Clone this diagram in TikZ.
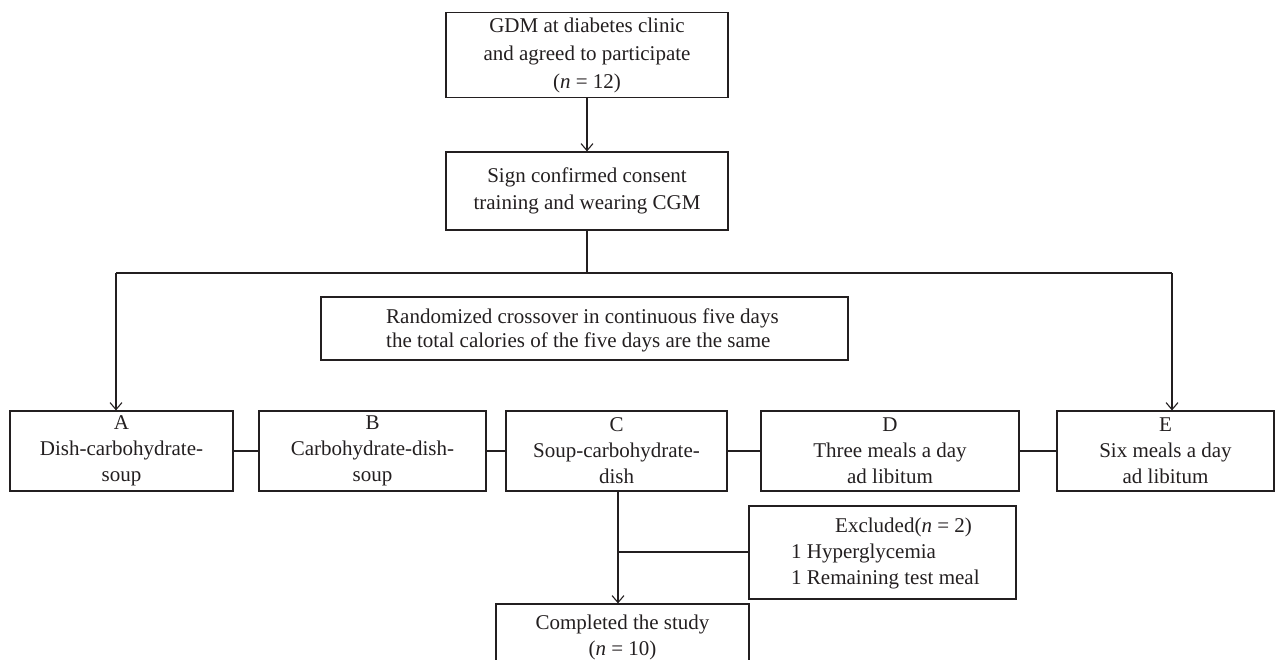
\documentclass[tikz,border=0pt]{standalone}
\usepackage{fontspec}
\setmainfont{Liberation Serif}
\usetikzlibrary{arrows.meta}
\definecolor{ink}{HTML}{231F20}
\begin{document}
\begin{tikzpicture}[x=1pt,y=-1pt,
  box/.style={draw=ink, text=ink, line width=1.2pt, inner sep=0pt, align=center,
    font=\fontsize{21}{28}\selectfont},
  rowbox/.style={box, minimum height=80pt, font=\fontsize{21}{26}\selectfont},
  txt/.style={text=ink, inner sep=0pt, font=\fontsize{21}{24}\selectfont},
  conn/.style={draw=ink, line width=1.2pt},
  arr/.style={conn, -{Straight Barb[length=7pt,width=12pt,line width=1.1pt]}}]
\useasboundingbox (0,0) rectangle (1276,660);

\node[box, minimum width=282pt, minimum height=85pt] (gdm) at (587,55)
  {GDM at diabetes clinic\\and agreed to participate\\(\textit{n} = 12)};
\node[box, minimum width=282pt, minimum height=78pt, font=\fontsize{21}{27}\selectfont] (sign) at (587,191)
  {Sign confirmed consent\\training and wearing CGM};
\node[box, minimum width=527pt, minimum height=63pt] (rand) at (584.5,328.5) {};
\node[txt, anchor=west, align=left] (randtext) at (386,330)
  {Randomized crossover in continuous five days\\the total calories of the five days are the same};

\node[rowbox, minimum width=223pt] (A) at (121.5,451) {A\\Dish-carbohydrate-\\soup};
\node[rowbox, minimum width=227pt] (B) at (372.5,451) {B\\Carbohydrate-dish-\\soup};
\node[rowbox, minimum width=221pt] (C) at (616.5,451) {C\\Soup-carbohydrate-\\dish};
\node[rowbox, minimum width=258pt] (D) at (890,451) {D\\Three meals a day\\ad libitum};
\node[rowbox, minimum width=217pt] (E) at (1165.5,451) {E\\Six meals a day\\ad libitum};

\node[box, minimum width=267pt, minimum height=93pt] (excl) at (882.5,552.5) {};
\node[txt, anchor=north west, align=left, font=\fontsize{21}{26}\selectfont] (excltext) at (791,518)
  {\hspace*{44pt}Excluded(\textit{n} = 2)\\1 Hyperglycemia\\1 Remaining test meal};

\node[box, minimum width=253pt, minimum height=66pt, font=\fontsize{21}{26}\selectfont] (done) at (622.5,637)
  {Completed the study\\(\textit{n} = 10)};

\coordinate (split) at (587,273);
\coordinate (la) at (116,273);
\coordinate (le) at (1172,273);
\coordinate (mid) at (618,552);

\draw[arr] (gdm.south) -- (sign.north);
\draw[conn] (sign.south) -- (split);
\draw[arr] (la) -- (la |- A.north);
\draw[conn] (la) -- (le);
\draw[arr] (le) -- (le |- E.north);

\draw[conn] (A.east) -- (B.west);
\draw[conn] (B.east) -- (C.west);
\draw[conn] (C.east) -- (D.west);
\draw[conn] (D.east) -- (E.west);

\draw[arr] (C.south -| mid) -- (mid |- done.north);
\draw[conn] (mid) -- (excl.west |- mid);
\end{tikzpicture}
\end{document}
